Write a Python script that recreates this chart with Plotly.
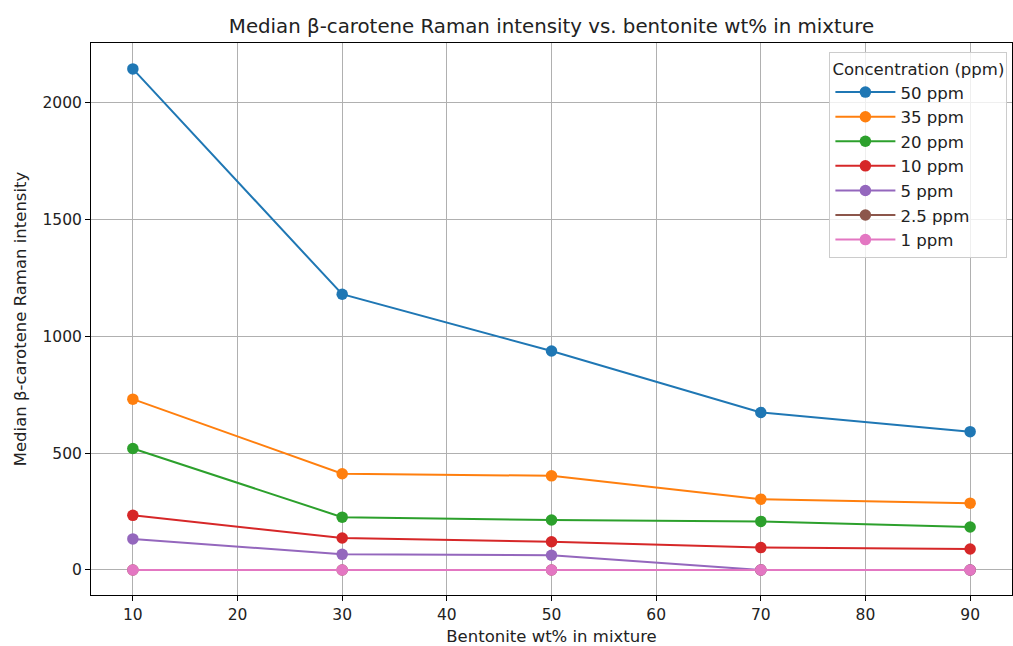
import plotly.graph_objects as go

# Bentonite content in the mixture (wt%)
bentonite_wt = [10, 30, 50, 70, 90]

# Median β-carotene Raman intensity per concentration
conc_labels = ["50 ppm", "35 ppm", "20 ppm", "10 ppm", "5 ppm", "2.5 ppm", "1 ppm"]
int_50 = [2144, 1180, 937, 674, 592]
int_35 = [731, 412, 403, 303, 286]
int_20 = [520, 226, 214, 208, 184]
int_10 = [234, 137, 121, 96, 90]
int_5 = [133, 67, 63, 0, 0]
int_2_5 = [0, 0, 0, 0, 0]
int_1 = [0, 0, 0, 0, 0]
series = [int_50, int_35, int_20, int_10, int_5, int_2_5, int_1]

colors = ["#1f77b4", "#ff7f0e", "#2ca02c", "#d62728", "#9467bd", "#8c564b", "#e377c2"]

fig = go.Figure()
for label, vals, col in zip(conc_labels, series, colors):
    fig.add_trace(go.Scatter(
        x=bentonite_wt, y=vals, name=label, mode="lines+markers",
        line=dict(color=col, width=2),
        marker=dict(color=col, size=11.5),
    ))

axis_common = dict(
    showline=True, linecolor="black", linewidth=1, mirror=True,
    ticks="outside", ticklen=5, tickcolor="black",
    showgrid=True, gridcolor="#b0b0b0", gridwidth=1,
    zeroline=False,
    tickfont=dict(size=15.5, color="#222"),
)

fig.update_layout(
    width=1013, height=646,
    margin=dict(l=91, r=1, t=43, b=51),
    paper_bgcolor="white", plot_bgcolor="white",
    font=dict(family="DejaVu Sans", size=15.5, color="#222"),
    title=dict(text="Median β-carotene Raman intensity vs. bentonite wt% in mixture",
               x=0.5, xref="paper", xanchor="center", y=1 - 26 / 646, yanchor="middle",
               font=dict(size=19.8, color="#222")),
    xaxis=dict(range=[6, 94], tickvals=[10, 20, 30, 40, 50, 60, 70, 80, 90],
               title=dict(text="Bentonite wt% in mixture", standoff=7, font=dict(size=16.5)),
               **axis_common),
    yaxis=dict(range=[-107, 2255], tickvals=[0, 500, 1000, 1500, 2000],
               title=dict(text="Median β-carotene Raman intensity", standoff=11, font=dict(size=16.5)),
               **axis_common),
    legend=dict(
        x=0.995, xanchor="right", y=0.983, yanchor="top",
        bgcolor="rgba(255,255,255,0.8)", bordercolor="#cccccc", borderwidth=1,
        font=dict(size=16.6, color="#222"),
        title=dict(text="Concentration (ppm)", side="top center", font=dict(size=16.5)),
        itemwidth=60, tracegroupgap=2,
    ),
    showlegend=True,
)

fig.write_html("out.html")
